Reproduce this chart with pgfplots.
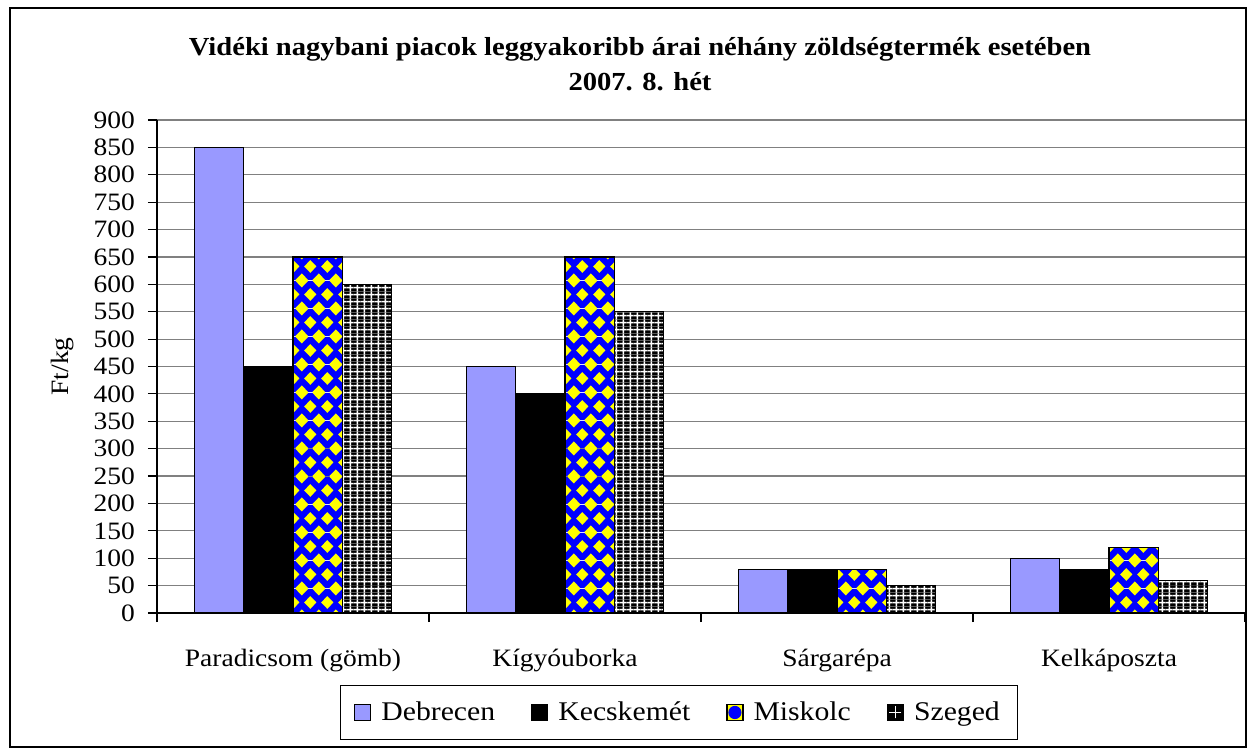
\documentclass[border=0pt]{standalone}
\usepackage{fontspec}
\setmainfont{Liberation Serif}[FakeStretch=1.1]
\usepackage{pgfplots}
\pgfplotsset{compat=1.18}
\usetikzlibrary{patterns}
\definecolor{debcol}{HTML}{9999FF}
\definecolor{misblue}{HTML}{0000FF}
\definecolor{misyel}{HTML}{FFFF00}
\newcommand{\dia}[2]{%
  \pgfpathmoveto{\pgfpoint{#1pt-3.1pt}{#2pt}}%
  \pgfpathlineto{\pgfpoint{#1pt}{#2pt+3.3pt}}%
  \pgfpathlineto{\pgfpoint{#1pt+3.1pt}{#2pt}}%
  \pgfpathlineto{\pgfpoint{#1pt}{#2pt-3.3pt}}%
  \pgfpathclose}
\pgfdeclarepatterninherentlycolored{bydiamonds}{\pgfpointorigin}{\pgfpoint{8.4pt}{14pt}}{\pgfpoint{8.4pt}{14pt}}{%
  \pgfsetfillcolor{misblue}%
  \pgfpathrectangle{\pgfpointorigin}{\pgfpoint{8.4pt}{14pt}}\pgfusepath{fill}%
  \pgfsetfillcolor{misyel}%
  \dia{0}{0}\dia{8.4}{0}\dia{0}{14}\dia{8.4}{14}\dia{4.2}{7}%
  \pgfusepath{fill}}
\pgfdeclarepatterninherentlycolored{bwgrid}{\pgfpointorigin}{\pgfpoint{3.4pt}{3.4pt}}{\pgfpoint{3.4pt}{3.4pt}}{%
  \pgfsetfillcolor{black}%
  \pgfpathrectangle{\pgfpointorigin}{\pgfpoint{3.4pt}{3.4pt}}\pgfusepath{fill}%
  \pgfsetfillcolor{white}%
  \pgfpathrectangle{\pgfpoint{1.3pt}{0pt}}{\pgfpoint{0.8pt}{3.4pt}}%
  \pgfpathrectangle{\pgfpoint{0pt}{1.3pt}}{\pgfpoint{3.4pt}{0.8pt}}%
  \pgfusepath{fill}}
\begin{document}
\begin{tikzpicture}
\useasboundingbox (-78.5pt,-71pt) rectangle (549.5pt,306.5pt);
\begin{axis}[
  at={(0pt,0pt)}, anchor=south west,
  scale only axis, width=544pt, height=246.5pt,
  xmin=-0.5, xmax=3.5, ymin=0, ymax=900,
  ybar=0pt, bar width=24.65pt,
  axis x line*=bottom, axis y line*=left,
  axis line style={-, black, line width=0.8pt},
  ytick={0,50,...,900},
  xtick={0,1,2,3},
  xticklabels={Paradicsom (gömb), Kígyóuborka, Sárgarépa, Kelkáposzta},
  minor xtick={-0.5,0.5,1.5,2.5,3.5},
  major x tick style={draw=none},
  tick align=outside, major tick length=4.5pt, minor tick length=4.5pt,
  tick style={black, line width=0.6pt},
  ymajorgrids, major grid style={gray, line width=0.6pt},
  /pgf/number format/assume math mode=true,
  yticklabel style={font=\fontsize{12.5}{14}\selectfont, xshift=-3pt},
  xticklabel style={font=\fontsize{12.5}{14}\selectfont, yshift=-10pt},
  ylabel={Ft/kg},
  every axis y label/.style={at={(axis description cs:-0.087,0.5)}, rotate=90, anchor=center, font=\fontsize{12.5}{14}\selectfont},
  legend style={at={(0.4798,-0.2018)}, anchor=center, legend columns=4, draw=black, line width=0.6pt,
    font=\fontsize{13.5}{15}\selectfont, inner xsep=7pt, inner ysep=6pt,
    /tikz/every odd column/.append style={column sep=3pt},
    /tikz/every even column/.append style={column sep=16pt}},
]
\addplot[fill=debcol, draw=black, line width=0.6pt,
  legend image code/.code={\draw[fill=debcol, draw=black, line width=0.6pt] (0pt,-4pt) rectangle (8pt,4pt);}]
  coordinates {(0,850) (1,450) (2,80) (3,100)};
\addplot[fill=black, draw=black, line width=0.6pt,
  legend image code/.code={\draw[fill=black, draw=black, line width=0.6pt] (0pt,-4pt) rectangle (8pt,4pt);}]
  coordinates {(0,450) (1,400) (2,80) (3,80)};
\addplot[pattern=bydiamonds, draw=black, line width=0.6pt,
  legend image code/.code={\draw[fill=misyel, draw=black, line width=0.6pt] (0pt,-4pt) rectangle (8pt,4pt); \fill[misblue] (4pt,0pt) circle (3pt);}]
  coordinates {(0,650) (1,650) (2,80) (3,120)};
\addplot[pattern=bwgrid, draw=black, line width=0.6pt,
  legend image code/.code={\draw[fill=black, draw=black, line width=0.6pt] (0pt,-4pt) rectangle (8pt,4pt); \draw[white, line width=0.7pt] (4pt,-3pt)--(4pt,3pt) (1pt,0pt)--(7pt,0pt);}]
  coordinates {(0,600) (1,550) (2,50) (3,60)};
\legend{Debrecen, Kecskemét, Miskolc, Szeged}
\end{axis}
\draw[black, line width=0.8pt] (-73.5pt,-67pt) rectangle (544.5pt,302.5pt);
\node[align=center, font=\bfseries\fontsize{13}{17.5}\selectfont] at (241.5pt,274.5pt)
  {Vidéki nagybani piacok leggyakoribb árai néhány zöldségtermék esetében\\2007. 8. hét};
\end{tikzpicture}
\end{document}
